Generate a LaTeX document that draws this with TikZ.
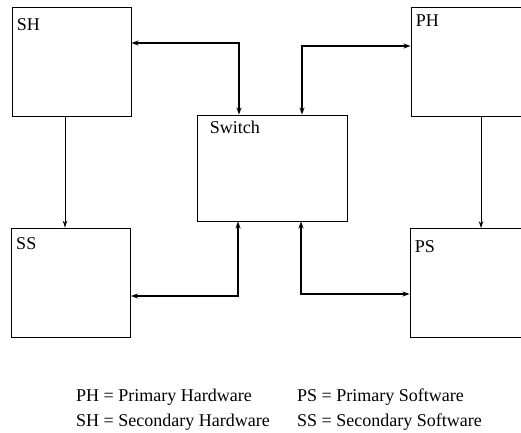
\documentclass[tikz,border=0pt]{standalone}
\usepackage{fontspec}
\setmainfont{Liberation Serif}
\usetikzlibrary{arrows.meta}
\begin{document}
\begin{tikzpicture}[x=1pt,y=-1pt,
  box/.style={draw,line width=0.9pt,rectangle,inner sep=0pt,minimum width=119pt,minimum height=109pt},
  swbox/.style={draw,line width=0.9pt,rectangle,inner sep=0pt,minimum width=150pt,minimum height=106pt},
  lbl/.style={anchor=north west,inner sep=0pt,font=\fontsize{18}{21}\selectfont},
  legend/.style={anchor=base west,inner sep=0pt,font=\fontsize{18}{21}\selectfont},
  bus/.style={line width=2.2pt,{Stealth[length=7pt,width=5pt]}-{Stealth[length=7pt,width=5pt]}},
  feed/.style={line width=0.8pt,-{Stealth[length=7pt,width=4.5pt]}}]
\useasboundingbox (0,0) rectangle (521,432);
\clip (0,0) rectangle (521,432);

% the four units and the switch
\node[box] (SH) at (71.5,61.5) {};
\node[box] (PH) at (470.5,61.5) {};
\node[box] (SS) at (71,282.5) {};
\node[box] (PS) at (469.5,283) {};
\node[swbox] (SW) at (272,168) {};

% box titles
\node[lbl,shift={(5,12)}] (SHt) at (SH.north west) {SH};
\node[lbl,shift={(5,8)}] (PHt) at (PH.north west) {PH};
\node[lbl,shift={(5,10)}] (SSt) at (SS.north west) {SS};
\node[lbl,shift={(5,12)}] (PSt) at (PS.north west) {PS};
\node[lbl,shift={(13,6)}] (SWt) at (SW.north west) {Switch};

% bend points of the switch links
\coordinate (c1) at (239,43);
\coordinate (c2) at (302,46);
\coordinate (c3) at (238,296);
\coordinate (c4) at (301,294);

% switch links
\draw[bus] (SH.east |- c1) -- (c1) -- (SW.north -| c1);
\draw[bus] (SW.north -| c2) -- (c2) -- (PH.west |- c2);
\draw[bus] (SW.south -| c3) -- (c3) -- (SS.east |- c3);
\draw[bus] (SW.south -| c4) -- (c4) -- (PS.west |- c4);

% hardware to software
\coordinate (f1) at (65,0);
\coordinate (f2) at (481,0);
\draw[feed] (SH.south -| f1) -- (SS.north -| f1);
\draw[feed] (PH.south -| f2) -- (PS.north -| f2);

% legend
\node[legend] (l1) at (76,401) {PH = Primary Hardware};
\node[legend] (l2) at (297,401) {PS = Primary Software};
\node[legend] (l3) at (76,426) {SH = Secondary Hardware};
\node[legend] (l4) at (297,426) {SS = Secondary Software};
\end{tikzpicture}
\end{document}
